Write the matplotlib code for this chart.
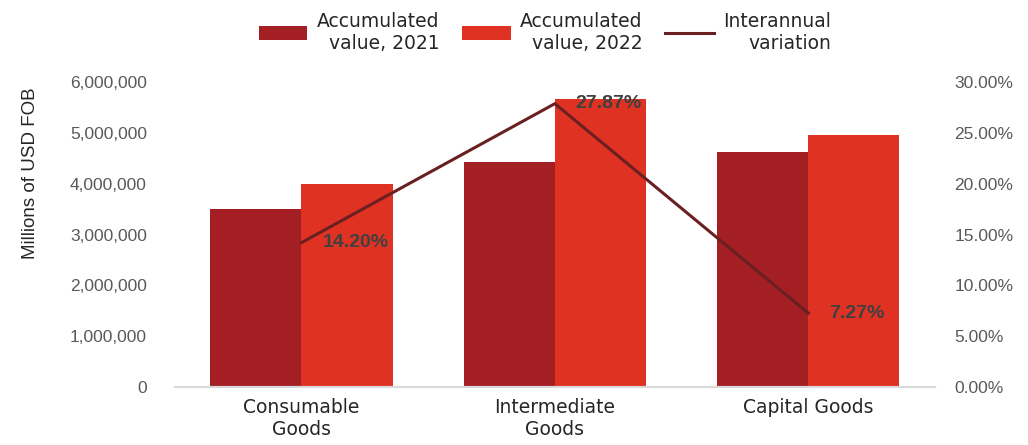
import numpy as np
import matplotlib.pyplot as plt
from matplotlib.ticker import FuncFormatter

plt.rcParams['font.family'] = 'Liberation Sans'

categories = ["Consumable\nGoods", "Intermediate\nGoods", "Capital Goods"]
value_2021 = [3500000, 4430000, 4620000]
value_2022 = [3997000, 5665000, 4956000]
variation = [14.20, 27.87, 7.27]

c2021 = '#A31F24'
c2022 = '#E03223'
cline = '#6A2020'
label_font = 'Liberation Sans Narrow'

fig = plt.figure(figsize=(10.28, 4.45), dpi=100)
ax = fig.add_axes([0.170, 0.1303, 0.7395, 0.6854])
ax2 = ax.twinx()

x = np.arange(len(categories))
w = 0.36
b1 = ax.bar(x - w / 2, value_2021, w, color=c2021, label="Accumulated\nvalue, 2021")
b2 = ax.bar(x + w / 2, value_2022, w, color=c2022, label="Accumulated\nvalue, 2022")

ax.set_xlim(-0.5, 2.5)
ax.set_ylim(0, 6000000)
ax.set_yticks(np.arange(0, 6000001, 1000000))
ax.yaxis.set_major_formatter(FuncFormatter(lambda v, p: f"{v:,.0f}"))
ax.tick_params(axis='y', length=0, labelsize=12.5, labelcolor='#595959', pad=20)
ax.set_xticks(x)
ax.set_xticklabels(categories, fontsize=13.5, color='#262626', family=label_font)
ax.tick_params(axis='x', length=0, pad=8)

ax2.set_ylim(0, 30)
ax2.set_yticks(np.arange(0, 31, 5))
ax2.yaxis.set_major_formatter(FuncFormatter(lambda v, p: f"{v:.2f}%"))
ax2.tick_params(axis='y', length=0, labelsize=12.5, labelcolor='#595959', pad=14)
ln, = ax2.plot(x, variation, color=cline, lw=2.2, label="Interannual\nvariation")
for xi, v in zip(x, variation):
    ax2.annotate(f"{v:.2f}%", (xi, v), xytext=(15, 0), textcoords='offset points',
                 ha='left', va='center', fontsize=14, fontweight='bold', color='#404040')

for a in (ax, ax2):
    for s in ('top', 'left', 'right'):
        a.spines[s].set_visible(False)
    a.spines['bottom'].set_color('#D9D9D9')
    a.spines['bottom'].set_linewidth(1.5)

fig.text(0.03, 1 - 173 / 445, "Millions of USD FOB", rotation=90, ha='center', va='center',
         fontsize=13.5, color='#262626')

leg = fig.legend(handles=[b1, b2, ln], loc='upper center', bbox_to_anchor=(0.53, 1.012),
                 ncol=3, frameon=False, handlelength=2.6, columnspacing=1.2,
                 handletextpad=0.5, prop={'family': label_font, 'size': 13.5})
for t in leg.get_texts():
    t.set_multialignment('right')
    t.set_color('#262626')

fig.savefig('out.png', dpi=100)
